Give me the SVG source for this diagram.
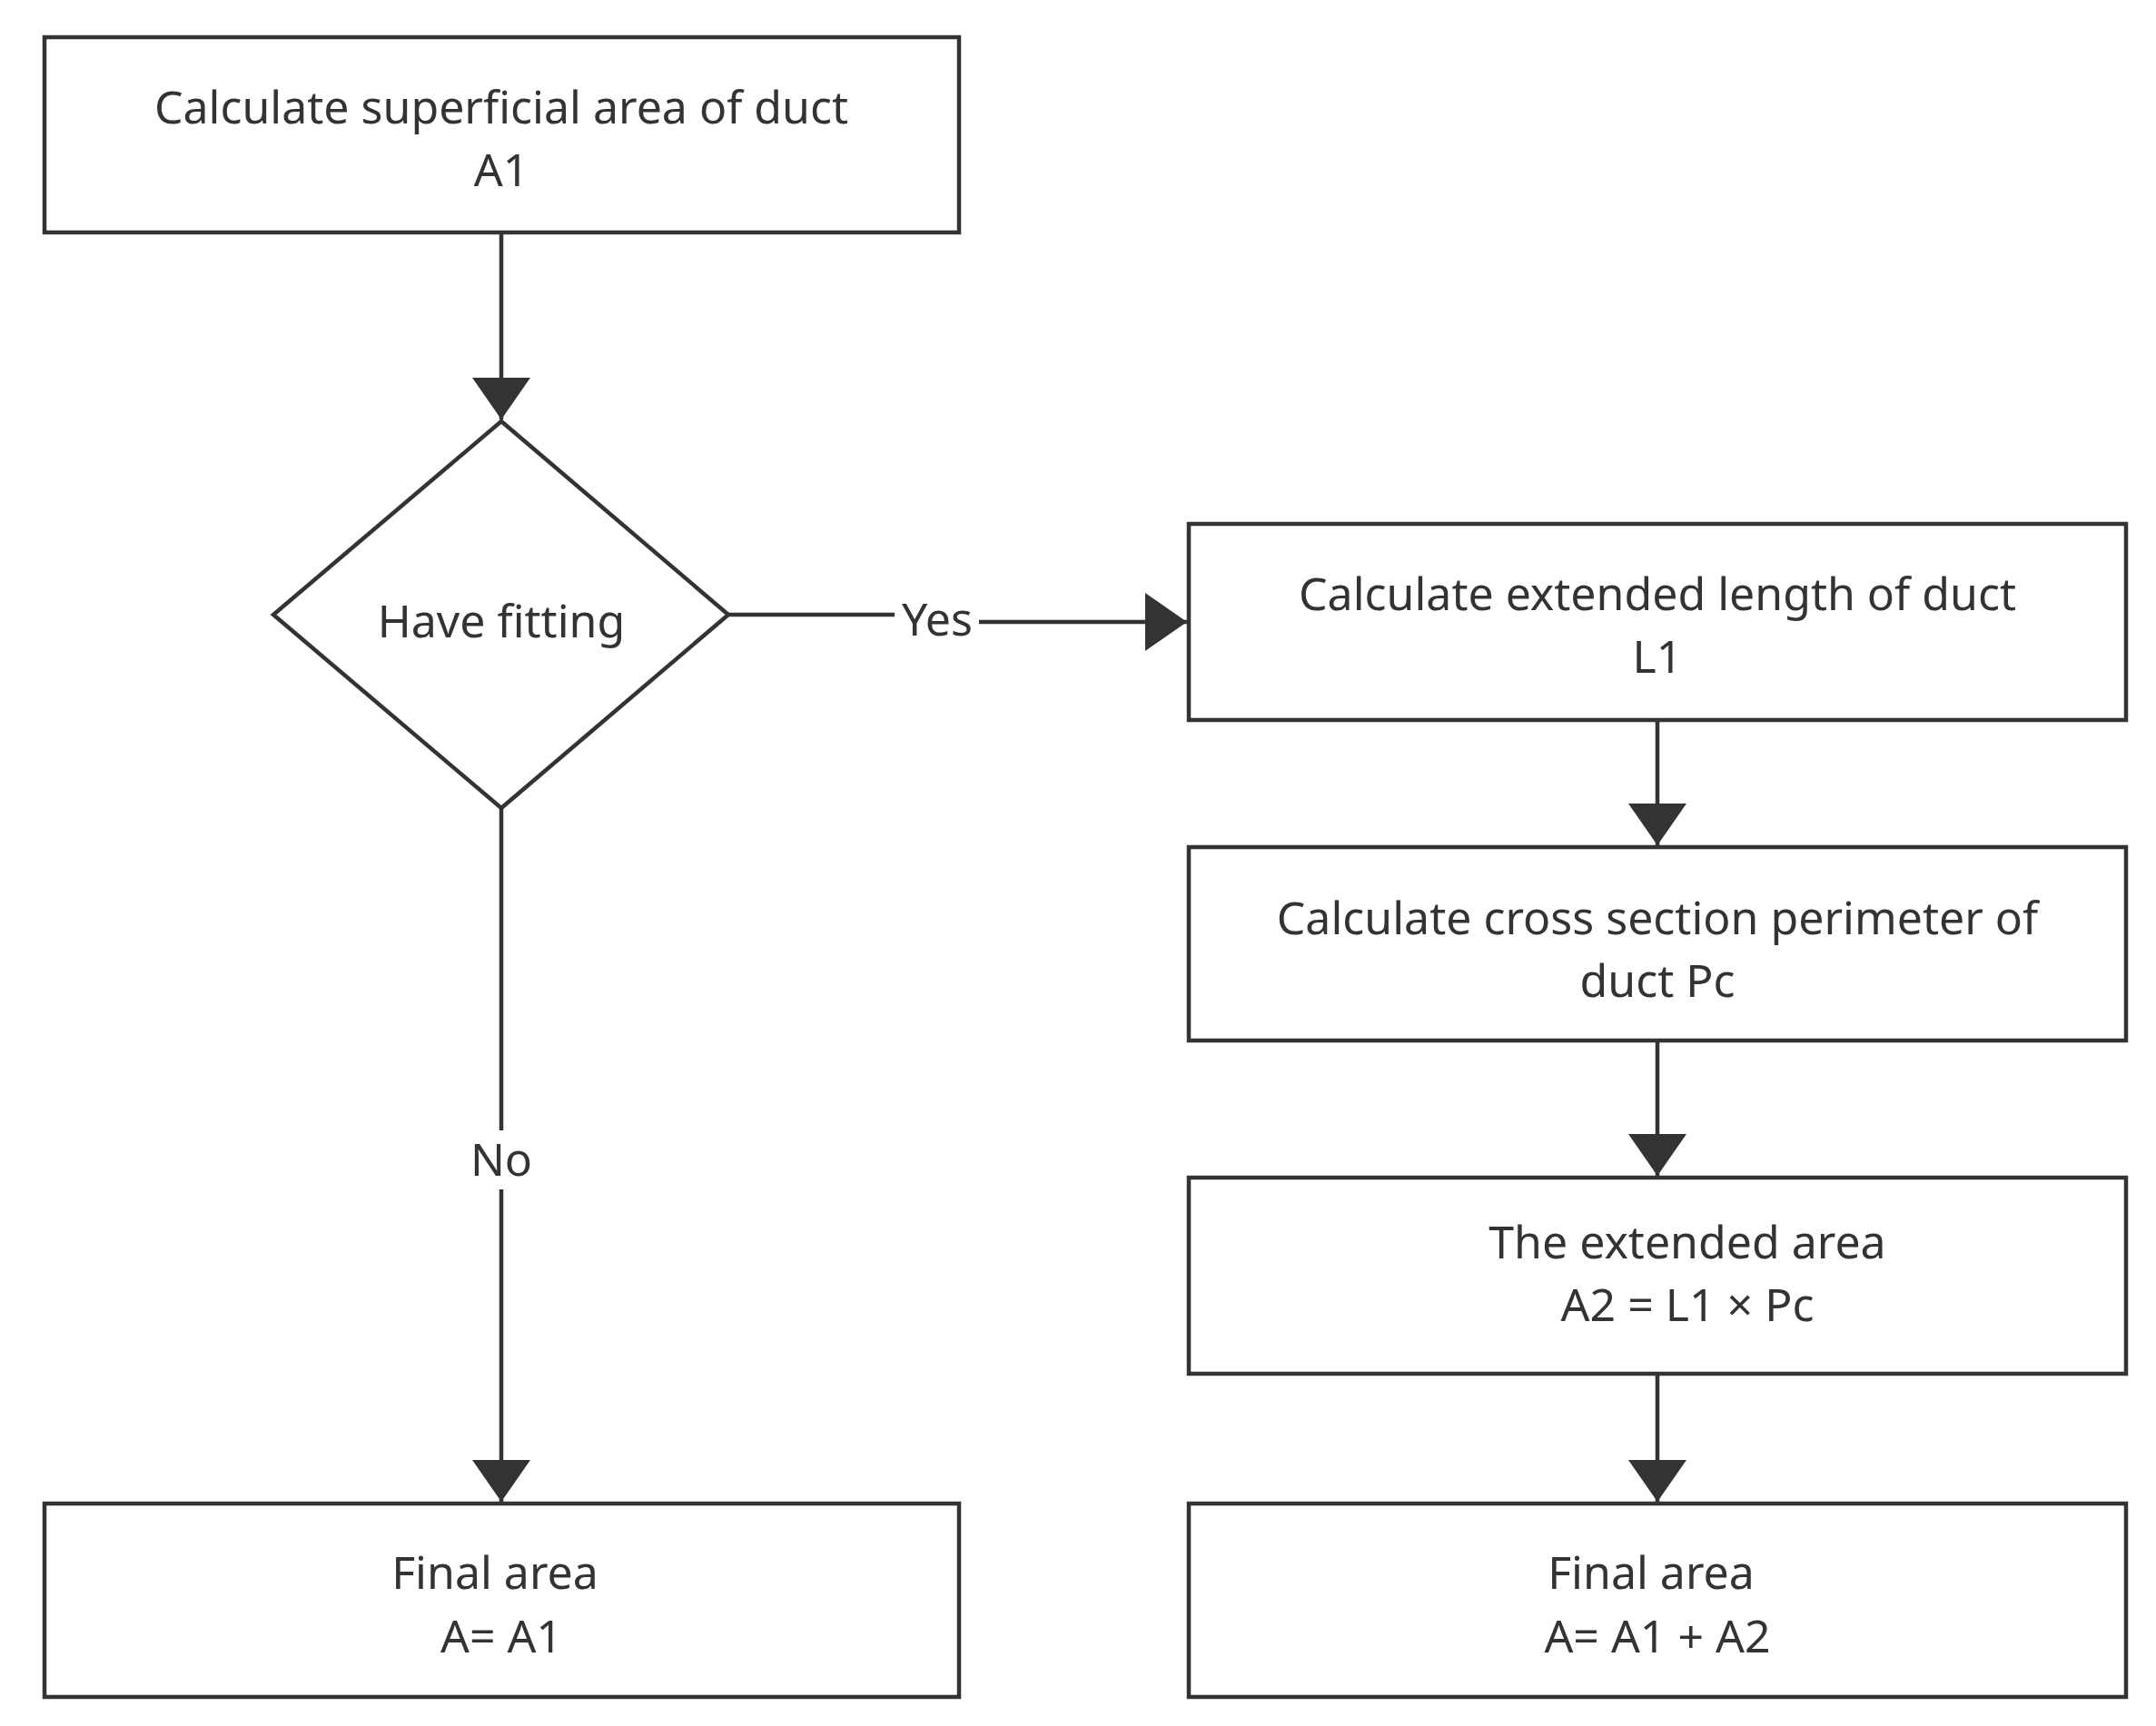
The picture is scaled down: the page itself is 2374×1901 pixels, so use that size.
<svg xmlns="http://www.w3.org/2000/svg" width="2374" height="1901" viewBox="0 0 2374 1901">
<style>
.n{fill:#fff;stroke:#333;stroke-width:4.5}
.t{font-family:"Noto Sans","Open Sans",sans-serif;font-size:50px;fill:#333;text-anchor:middle}
.c{stroke:#333;stroke-width:4.5;fill:none}
</style>
<defs><marker id="a" markerWidth="12" markerHeight="12" refX="11" refY="6" orient="auto" markerUnits="userSpaceOnUse" viewBox="0 0 12 12"><path d="M0,0L12,6L0,12z" fill="#333"/></marker>
<marker id="b" viewBox="0 0 20 20" refX="20" refY="10" markerWidth="46" markerHeight="64" orient="auto" markerUnits="userSpaceOnUse" preserveAspectRatio="none"><path d="M0,0L20,10L0,20z" fill="#333"/></marker></defs>
<g id="connectors">
<line class="c" x1="552" y1="256" x2="552" y2="462" marker-end="url(#b)"/>
<polyline class="c" points="802,677 985,677"/>
<polyline class="c" points="1078,685 1307,685" marker-end="url(#b)"/>
<line class="c" x1="552" y1="890" x2="552" y2="1245"/>
<line class="c" x1="552" y1="1310" x2="552" y2="1654" marker-end="url(#b)"/>
<line class="c" x1="1825" y1="793" x2="1825" y2="931" marker-end="url(#b)"/>
<line class="c" x1="1825" y1="1146" x2="1825" y2="1295" marker-end="url(#b)"/>
<line class="c" x1="1825" y1="1513" x2="1825" y2="1654" marker-end="url(#b)"/>
<text class="t" x="1032" y="700">Yes</text>
<text class="t" x="552" y="1295">No</text>
</g>
<g id="n1"><rect class="n" x="49" y="41" width="1007" height="215"/><text class="t" x="552" y="136">Calculate superficial area of duct</text><text class="t" x="552" y="205">A1</text></g>
<g id="n2"><polygon class="n" points="552,464 802,677 552,890 301,677"/><text class="t" x="552" y="702">Have fitting</text></g>
<g id="n3"><rect class="n" x="1309" y="577" width="1032" height="216"/><text class="t" x="1825" y="672">Calculate extended length of duct</text><text class="t" x="1825" y="741">L1</text></g>
<g id="n4"><rect class="n" x="1309" y="933" width="1032" height="213"/><text class="t" x="1825" y="1029">Calculate cross section perimeter of</text><text class="t" x="1825" y="1098">duct Pc</text></g>
<g id="n5"><rect class="n" x="1309" y="1297" width="1032" height="216"/><text class="t" x="1858" y="1386">The extended area</text><text class="t" x="1858" y="1455">A2 = L1 × Pc</text></g>
<g id="n6"><rect class="n" x="49" y="1656" width="1007" height="213"/><text class="t" x="545" y="1750">Final area</text><text class="t" x="552" y="1820">A= A1</text></g>
<g id="n7"><rect class="n" x="1309" y="1656" width="1032" height="213"/><text class="t" x="1818" y="1750">Final area</text><text class="t" x="1825" y="1820">A= A1 + A2</text></g>
</svg>
